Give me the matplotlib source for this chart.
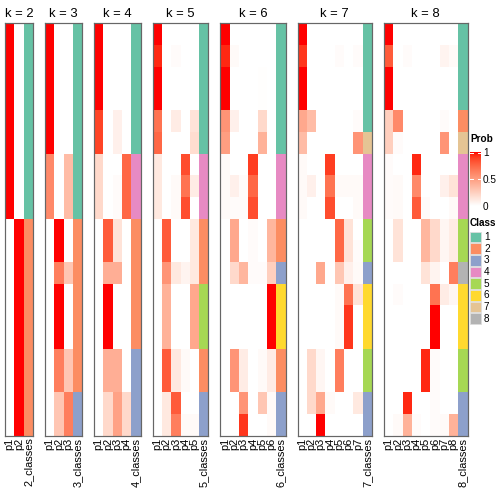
import numpy as np
import matplotlib
matplotlib.use('Agg')
from matplotlib import pyplot as plt
from matplotlib.colors import ListedColormap, BoundaryNorm

plt.rcParams['font.family'] = ['Liberation Sans', 'DejaVu Sans']

# membership probabilities, 19 samples (rows) for each k
prob_k2 = [[1, 0]] * 9 + [[0, 1]] * 10
class_k2 = [1] * 9 + [2] * 10

prob_k3 = [[1, 0, 0]] * 6 + [[0.6, 0, 0.35]] * 3 + [[0, 1, 0]] * 2 + \
    [[0, 0.65, 0.3]] + [[0, 1, 0]] * 3 + [[0, 0.65, 0.3]] * 2 + [[0, 0.3, 0.65]] * 2
class_k3 = [1] * 9 + [2] * 8 + [3] * 2

prob_k4 = [[1, 0, 0, 0]] * 4 + [[0.88, 0, 0.08, 0]] * 2 + [[0.2, 0, 0, 0.75]] + \
    [[0.2, 0, 0.02, 0.75]] * 2 + [[0, 0.8, 0.15, 0]] * 2 + [[0, 0.42, 0.42, 0]] + \
    [[0, 1, 0, 0]] * 3 + [[0, 0.42, 0.42, 0]] * 2 + [[0, 0.2, 0.48, 0.2]] * 2
class_k4 = [1] * 6 + [4] * 3 + [2] * 6 + [3] * 4

prob_k5 = [
    [1, 0, 0, 0, 0],
    [0.95, 0, 0.02, 0, 0],
    [1, 0, 0, 0, 0],
    [1, 0, 0, 0, 0],
    [0.7, 0, 0.1, 0, 0.15],
    [0.75, 0, 0, 0, 0.18],
    [0.12, 0, 0, 0.85, 0],
    [0.12, 0, 0.03, 0.7, 0.1],
    [0.12, 0, 0.03, 0.85, 0],
    [0, 0.8, 0, 0, 0.12],
    [0, 0.8, 0, 0, 0.12],
    [0, 0.55, 0.12, 0.06, 0.12],
    [0, 0.4, 0, 0, 0.45],
    [0, 0.4, 0, 0, 0.45],
    [0, 0.4, 0, 0, 0.45],
    [0, 0.8, 0.12, 0.03, 0],
    [0, 0.8, 0.12, 0.03, 0],
    [0, 0.12, 0.8, 0, 0],
    [0, 0.12, 0.65, 0.03, 0.03],
]
class_k5 = [1] * 6 + [4] * 3 + [2] * 3 + [5] * 3 + [2] * 2 + [3] * 2

prob_k6 = [
    [1, 0, 0, 0, 0, 0],
    [0.95, 0.03, 0, 0, 0, 0],
    [1, 0, 0, 0, 0.01, 0],
    [1, 0, 0, 0, 0.01, 0],
    [0.55, 0.08, 0, 0, 0.2, 0],
    [0.5, 0, 0, 0, 0.4, 0],
    [0.03, 0, 0, 0.9, 0, 0],
    [0.03, 0.08, 0.02, 0.75, 0, 0],
    [0.03, 0.02, 0.02, 0.85, 0, 0],
    [0, 0.45, 0, 0.02, 0, 0.38],
    [0, 0.45, 0, 0.02, 0, 0.38],
    [0, 0.2, 0.38, 0.02, 0.02, 0.25],
    [0, 0, 0, 0, 0, 1],
    [0, 0, 0, 0, 0, 1],
    [0, 0, 0, 0, 0, 1],
    [0, 0.55, 0.1, 0, 0.03, 0.1],
    [0, 0.55, 0.1, 0, 0.03, 0.1],
    [0, 0, 0.55, 0, 0.3, 0.03],
    [0, 0, 0.92, 0, 0, 0.03],
]
class_k6 = [1] * 6 + [4] * 3 + [2] * 2 + [3] + [6] * 3 + [2] * 2 + [3] * 2

prob_k7 = [
    [1, 0, 0, 0, 0, 0, 0],
    [0.92, 0, 0, 0, 0.02, 0, 0.02],
    [1, 0, 0, 0, 0, 0, 0],
    [1, 0, 0, 0, 0, 0, 0],
    [0.45, 0.35, 0, 0, 0, 0, 0.02],
    [0.35, 0, 0, 0, 0, 0, 0.55],
    [0.03, 0, 0, 0.9, 0, 0, 0],
    [0.03, 0.08, 0, 0.7, 0.03, 0.03, 0.03],
    [0.03, 0, 0, 0.85, 0, 0, 0.03],
    [0, 0, 0, 0, 0.75, 0.15, 0],
    [0, 0, 0, 0, 0.75, 0.15, 0.02],
    [0, 0, 0.45, 0, 0.3, 0.08, 0.03],
    [0, 0, 0, 0, 0.03, 0.7, 0.15],
    [0, 0, 0, 0, 0.03, 0.92, 0],
    [0, 0, 0, 0, 0.03, 0.92, 0],
    [0, 0.2, 0.05, 0, 0.65, 0, 0],
    [0, 0.2, 0.05, 0, 0.65, 0, 0],
    [0, 0.2, 0.45, 0.03, 0, 0, 0.12],
    [0, 0, 1, 0, 0, 0, 0],
]
class_k7 = [1] * 5 + [7] + [4] * 3 + [5] * 2 + [3] + [6] * 3 + [5] * 2 + [3] * 2

prob_k8 = [
    [1, 0, 0, 0, 0, 0, 0, 0],
    [0.8, 0, 0.02, 0, 0, 0, 0.06, 0.03],
    [1, 0, 0, 0, 0, 0, 0, 0],
    [1, 0, 0, 0, 0, 0, 0, 0],
    [0.25, 0.6, 0, 0, 0, 0, 0.02, 0],
    [0.25, 0.02, 0, 0, 0, 0, 0.55, 0],
    [0.02, 0, 0, 0.95, 0, 0, 0, 0],
    [0.02, 0.03, 0, 0.6, 0, 0, 0.08, 0.15],
    [0.02, 0.03, 0, 0.8, 0.02, 0, 0, 0.03],
    [0, 0.15, 0, 0, 0.38, 0.2, 0.05, 0.1],
    [0, 0.15, 0, 0, 0.38, 0.2, 0.05, 0.1],
    [0, 0, 0, 0, 0.15, 0.06, 0, 0.65],
    [0, 0.02, 0, 0, 0, 0.7, 0.1, 0.05],
    [0, 0, 0, 0, 0, 1, 0, 0],
    [0, 0, 0, 0, 0, 1, 0, 0],
    [0, 0, 0, 0, 0.95, 0.02, 0, 0],
    [0, 0, 0, 0, 0.95, 0.02, 0, 0],
    [0, 0, 0.95, 0, 0, 0.02, 0, 0],
    [0, 0.03, 0.4, 0.02, 0, 0.02, 0.03, 0.4],
]
class_k8 = [1] * 4 + [2] + [7] + [4] * 3 + [5] * 2 + [8] + [6] * 3 + [5] * 2 + [3] * 2

ks = [2, 3, 4, 5, 6, 7, 8]
probs = [prob_k2, prob_k3, prob_k4, prob_k5, prob_k6, prob_k7, prob_k8]
classes = [class_k2, class_k3, class_k4, class_k5, class_k6, class_k7, class_k8]
class_colors = ['#66C2A5', '#FC8D62', '#8DA0CB', '#E78AC3',
                '#A6D854', '#FFD92F', '#E5C494', '#B3B3B3']


# white -> red interpolated in LAB space
def lab_to_rgb(lab):
    L, a, b = lab[:, 0], lab[:, 1], lab[:, 2]
    fy = (L + 16) / 116
    fx = fy + a / 500
    fz = fy - b / 200
    def finv(t):
        return np.where(t > 6 / 29, t ** 3, 3 * (6 / 29) ** 2 * (t - 4 / 29))
    xyz = np.stack([0.95047 * finv(fx), finv(fy), 1.08883 * finv(fz)], axis=1)
    M = np.array([[3.2406, -1.5372, -0.4986],
                  [-0.9689, 1.8758, 0.0415],
                  [0.0557, -0.2040, 1.0570]])
    lin = np.clip(xyz @ M.T, 0, 1)
    rgb = np.where(lin <= 0.0031308, 12.92 * lin, 1.055 * lin ** (1 / 2.4) - 0.055)
    return np.clip(rgb, 0, 1)

t = np.linspace(0, 1, 256)[:, None]
white_lab = np.array([100.0, 0.0, 0.0])
red_lab = np.array([53.24, 80.09, 67.20])
prob_cmap = ListedColormap(lab_to_rgb(white_lab + t * (red_lab - white_lab)))
class_cmap = ListedColormap(class_colors)
class_norm = BoundaryNorm(np.arange(0.5, 9.5, 1), 8)

W = H = 504
fig = plt.figure(figsize=(7, 7), dpi=72)

def px_axes(x0, y0, w, h):
    return fig.add_axes([x0 / W, 1 - (y0 + h) / H, w / W, h / H])

top, bottom = 23.3, 435.6
colw = 9.3
gap = 12
x = 5
n_rows = 19
for k, prob, cls in zip(ks, probs, classes):
    ncol = k + 1
    w = ncol * colw
    ax = px_axes(x, top, w, bottom - top)
    p = np.array(prob, dtype=float)
    ax.pcolormesh(np.arange(k + 1), np.arange(n_rows + 1), p,
                  cmap=prob_cmap, vmin=0, vmax=1)
    ax.pcolormesh([k, k + 1], np.arange(n_rows + 1), np.array(cls)[:, None],
                  cmap=class_cmap, norm=class_norm)
    ax.set_xlim(0, ncol)
    ax.set_ylim(n_rows, 0)
    ax.set_yticks([])
    ax.set_xticks(np.arange(ncol) + 0.5)
    ax.set_xticklabels(['p%d' % (i + 1) for i in range(k)] + ['%d_classes' % k],
                       rotation=90, fontsize=11)
    ax.tick_params(axis='x', length=0, pad=2)
    for s in ax.spines.values():
        s.set_color('#666666')
        s.set_linewidth(1.2)
    ax.set_title('k = %d' % k, fontsize=13, pad=6)
    x += w + gap

# legend: probability colour bar
fig.text(470 / W, 1 - 139 / H, 'Prob', fontsize=10, fontweight='bold', va='center')
cax = px_axes(470, 152, 11, 54)
grad = np.linspace(1, 0, 100)[:, None]
cax.imshow(grad, aspect='auto', cmap=prob_cmap, vmin=0, vmax=1,
           extent=[0, 1, 0, 1])
for v in [0.5, 0.98]:
    cax.plot([0, 0.25], [v, v], color='white', lw=1)
    cax.plot([0.75, 1], [v, v], color='white', lw=1)
cax.set_xlim(0, 1)
cax.set_ylim(0, 1)
cax.set_xticks([])
cax.yaxis.tick_right()
cax.set_yticks([0, 0.5, 1])
cax.set_yticklabels(['0', '0.5', '1'], fontsize=10)
cax.tick_params(axis='y', length=0, pad=2)
for s in cax.spines.values():
    s.set_visible(False)

# legend: classes
fig.text(470 / W, 1 - 223 / H, 'Class', fontsize=10, fontweight='bold', va='center')
lax = px_axes(470, 231, 30, 8 * 11.7)
for i, c in enumerate(class_colors):
    lax.add_patch(plt.Rectangle((0, i + 0.05), 11, 0.9, facecolor=c,
                                edgecolor='#dddddd', lw=0.8))
    lax.text(14, i + 0.5, str(i + 1), fontsize=10, va='center', ha='left')
lax.set_xlim(0, 30)
lax.set_ylim(8, 0)
lax.axis('off')

fig.savefig('out.png', dpi=72)
